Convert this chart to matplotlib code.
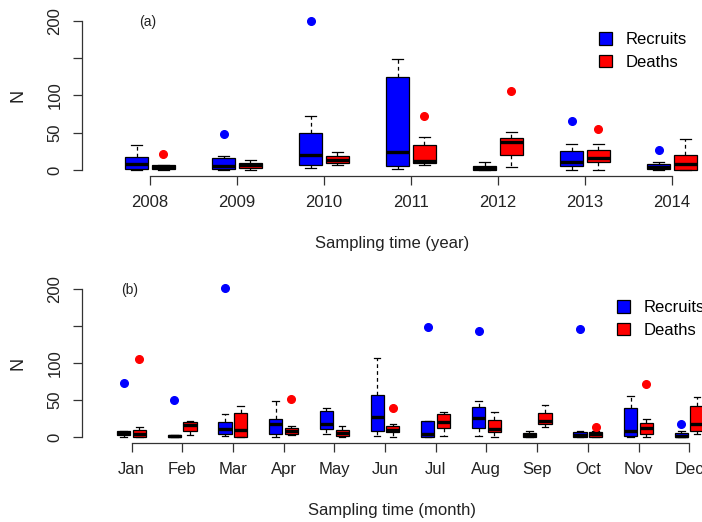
import matplotlib
matplotlib.use("Agg")
import matplotlib.pyplot as plt
from matplotlib.patches import Patch

plt.rcParams['font.family'] = ['Liberation Sans', 'DejaVu Sans']

# ---------------- data: panel (a) by year ----------------
years = ['2008', '2009', '2010', '2011', '2012', '2013', '2014']
rec_y_lo = [0, 0, 2.2, 0.9, 0, 0.4, 0]
rec_y_q1 = [1.8, 0.9, 6.3, 4.9, 0.4, 4.9, 1.3]
rec_y_med = [8, 5.8, 19.7, 24.2, 2.7, 10.7, 3.6]
rec_y_q3 = [17.4, 15.7, 50, 125.3, 5.8, 25, 7.6]
rec_y_hi = [33.5, 18.8, 72.9, 149, 10.3, 34.9, 10.3]
rec_y_fl = [[], [48.3], [200], [], [], [65.3], [27.3]]

dea_y_lo = [0, 0.4, 6.7, 6.7, 3.6, 0.4, 0]
dea_y_q1 = [1.5, 2.7, 9.8, 9.4, 19.7, 10.3, 0.4]
dea_y_med = [4, 6.3, 13.9, 12, 37.2, 16.5, 7.6]
dea_y_q3 = [6.5, 9, 19.2, 33.1, 43.4, 27.3, 20.6]
dea_y_hi = [7, 13.8, 23.7, 44.3, 51.5, 35.3, 42]
dea_y_fl = [[21.5], [], [], [72], [105.6], [54.6], []]

# ---------------- data: panel (b) by month ----------------
months = ['Jan', 'Feb', 'Mar', 'Apr', 'May', 'Jun', 'Jul', 'Aug', 'Sep',
          'Oct', 'Nov', 'Dec']
rec_m_lo = [0, 0.4, 1.4, 0, 3.6, 0.9, 0.5, 0.9, 0, 0, 0, 0]
rec_m_q1 = [2.2, 0.4, 3.6, 4.5, 11.3, 8.6, 0.5, 12.6, 0.5, 0.3, 1.8, 0.3]
rec_m_med = [4.9, 1.5, 10.8, 17.6, 17.6, 27.5, 4, 25.7, 2.2, 3.2, 8.6, 1.8]
rec_m_q3 = [8.1, 2.7, 20.7, 24.3, 34.7, 56.3, 21.6, 40.5, 5.9, 6.7, 39.6, 4.9]
rec_m_hi = [8.6, 2.7, 31, 49, 39.6, 106.8, 21.6, 48.2, 8.6, 7.7, 55.8, 7.7]
rec_m_fl = [[72.5], [49.6], [201], [], [], [], [149], [142.8], [], [146],
            [], [17.1]]

dea_m_lo = [0, 2.7, 0, 2.2, 0, 0, 1.8, 0, 13.5, 0.5, 0.5, 4]
dea_m_q1 = [0.3, 8.6, 0, 4, 0.9, 6.3, 12.2, 6.3, 17.6, 0.5, 4.5, 8.1]
dea_m_med = [4.5, 16.6, 9.9, 8.1, 4.9, 9.9, 20.3, 11.3, 21.6, 3.6, 12.6, 17.1]
dea_m_q3 = [9.5, 20.3, 32, 11.7, 9, 14.4, 31, 23.4, 32.9, 7.2, 18.5, 41.4]
dea_m_hi = [13.5, 22, 41.9, 14.4, 15.3, 17.6, 34.2, 33.3, 42.8, 8.6, 23.9, 53.6]
dea_m_fl = [[105], [], [], [51.3], [], [38.7], [], [], [], [14], [72], []]

yticks = [0, 50, 100, 150, 200]
yticklabels = ['0', '50', '100', '', '200']

BLUE = '#0000FF'
RED = '#FF0000'


def stats(lo, q1, med, q3, hi, fl):
    return [dict(whislo=a, q1=b, med=c, q3=d, whishi=e, fliers=f)
            for a, b, c, d, e, f in zip(lo, q1, med, q3, hi, fl)]


def draw(ax, labels, rec, dea, tag, xlabel, xlim):
    n = len(labels)
    w = 0.26
    off = 0.155
    for st, col, sgn in ((rec, BLUE, -1), (dea, RED, 1)):
        pos = [i + sgn * off for i in range(n)]
        ax.bxp(st, positions=pos, widths=w, capwidths=w * 0.5,
               patch_artist=True, manage_ticks=False,
               boxprops=dict(facecolor=col, edgecolor='black', linewidth=0.9),
               medianprops=dict(color='black', linewidth=2.4,
                                solid_capstyle='butt'),
               whiskerprops=dict(color='black', linestyle=(0, (3, 2.5)),
                                 linewidth=0.9),
               capprops=dict(color='black', linewidth=0.9),
               flierprops=dict(marker='o', markerfacecolor=col,
                               markeredgecolor=col, markersize=5.5,
                               linestyle='none'))
    ax.set_xlim(*xlim)
    ax.set_ylim(-8, 208)
    for s in ('top', 'right'):
        ax.spines[s].set_visible(False)
    ax.spines['left'].set_bounds(0, 200)
    ax.spines['bottom'].set_bounds(0, n - 1)
    for s in ('left', 'bottom'):
        ax.spines[s].set_linewidth(0.9)
        ax.spines[s].set_color('#333333')
    ax.set_xticks(range(n))
    ax.set_xticklabels(labels, fontsize=12, color='#222222')
    ax.set_yticks(yticks)
    ax.set_yticklabels(yticklabels, rotation=90, va='center', fontsize=12,
                       color='#222222')
    ax.tick_params(axis='both', direction='out', length=6.5, width=0.9,
                   color='#333333')
    ax.tick_params(axis='x', pad=7)
    ax.tick_params(axis='y', pad=7.5)
    ax.set_xlabel(xlabel, fontsize=12, labelpad=19, color='#222222')
    ax.set_ylabel('N', fontsize=13, color='#222222')
    ax.yaxis.set_label_coords(-0.09, 0.5)
    ax.text(-0.03, 199, tag, fontsize=10, ha='center', va='center',
            color='#222222')


fig = plt.figure(figsize=(7.02, 5.22), dpi=100)
W, H = 702.0, 522.0

ax1 = fig.add_axes([82 / W, 1 - 176 / H, 620 / W, 161 / H])
draw(ax1, years,
     stats(rec_y_lo, rec_y_q1, rec_y_med, rec_y_q3, rec_y_hi, rec_y_fl),
     stats(dea_y_lo, dea_y_q1, dea_y_med, dea_y_q3, dea_y_hi, dea_y_fl),
     '(a)', 'Sampling time (year)', (-(150 - 82) / 87.0, (702 - 150) / 87.0))

ax2 = fig.add_axes([82 / W, 1 - 443 / H, 620 / W, 160 / H])
draw(ax2, months,
     stats(rec_m_lo, rec_m_q1, rec_m_med, rec_m_q3, rec_m_hi, rec_m_fl),
     stats(dea_m_lo, dea_m_q1, dea_m_med, dea_m_q3, dea_m_hi, dea_m_fl),
     '(b)', 'Sampling time (month)',
     (-(131.5 - 82) / 50.7, (702 - 131.5) / 50.7))

handles = [Patch(facecolor=BLUE, edgecolor='black', linewidth=0.9),
           Patch(facecolor=RED, edgecolor='black', linewidth=0.9)]
for (x0, yc) in ((599, 51), (617, 319)):
    fig.legend(handles, ['Recruits', 'Deaths'], loc='center left',
               bbox_to_anchor=(x0 / W, 1 - yc / H), frameon=False,
               fontsize=12, handlelength=0.75, handleheight=0.75,
               handletextpad=0.85, labelspacing=0.45, borderpad=0,
               borderaxespad=0)

fig.savefig('out.png', dpi=100)
